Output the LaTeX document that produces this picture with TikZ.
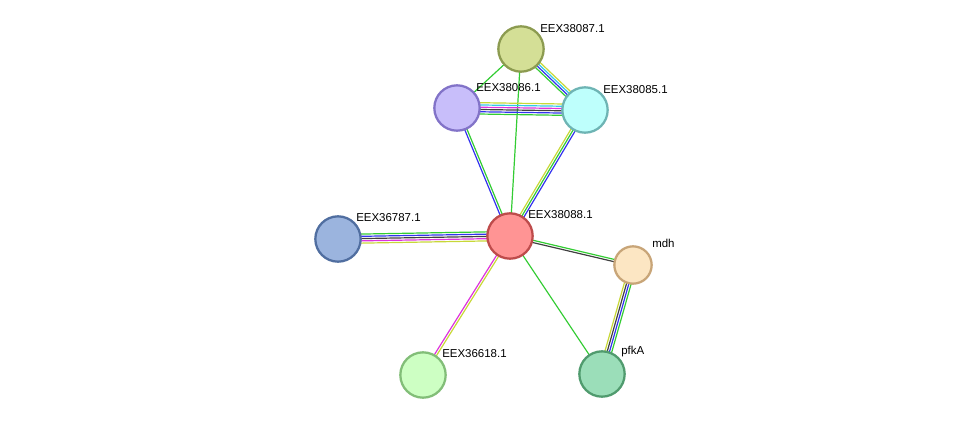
\documentclass[tikz,border=0pt]{standalone}
\usepackage{fontspec}
\setmainfont{Liberation Sans}
\usetikzlibrary{calc,backgrounds}
\definecolor{egreen}{HTML}{33CC33}
\definecolor{eblue}{HTML}{3333EE}
\definecolor{eyel}{HTML}{C8D838}
\definecolor{emag}{HTML}{DD33DD}
\definecolor{eblk}{HTML}{404040}
\definecolor{ecyan}{HTML}{33C8E8}
\newcommand{\myedge}[4]{%
  \foreach \cl [count=\ii] in {#3}{%
    \pgfmathsetmacro{\off}{(\ii-(#4+1)/2)*1.7}
    \draw[draw=\cl,line width=0.9pt] ($(#1)!\off pt!90:(#2)$) -- ($(#2)!\off pt!-90:(#1)$);
  }}
\tikzset{prot/.style={circle,minimum size=34pt,line width=1.7pt,inner sep=0pt},
  lab/.style={font=\fontsize{8.6}{10}\selectfont,anchor=south west,inner sep=0pt}}
\begin{document}
\begin{tikzpicture}[x=0.75pt,y=-0.75pt]
\useasboundingbox (0,0) rectangle (976,421);
\node[prot,draw={rgb,255:red,140;green,155;blue,80},fill={rgb,255:red,212;green,223;blue,150}] (n87) at (521,49) {};
\node[prot,draw={rgb,255:red,130;green,115;blue,200},fill={rgb,255:red,200;green,190;blue,250}] (n86) at (457,108) {};
\node[prot,draw={rgb,255:red,110;green,180;blue,180},fill={rgb,255:red,190;green,255;blue,252}] (n85) at (585,110) {};
\node[prot,draw={rgb,255:red,190;green,75;blue,75},fill={rgb,255:red,255;green,148;blue,148}] (n88) at (510,236) {};
\node[prot,draw={rgb,255:red,80;green,110;blue,160},fill={rgb,255:red,155;green,180;blue,222}] (n67) at (338,239) {};
\node[prot,minimum size=28pt,draw={rgb,255:red,200;green,165;blue,120},fill={rgb,255:red,252;green,230;blue,195}] (mdh) at (633,265) {};
\node[prot,draw={rgb,255:red,130;green,190;blue,120},fill={rgb,255:red,205;green,255;blue,195}] (n18) at (423,375) {};
\node[prot,draw={rgb,255:red,80;green,155;blue,110},fill={rgb,255:red,155;green,222;blue,185}] (pfk) at (602,374) {};
\begin{scope}[on background layer]
\myedge{n88}{n86}{egreen,eblue}{2}
\myedge{n88}{n85}{eblue,egreen,eyel}{3}
\myedge{n88}{n87}{egreen}{1}
\myedge{n86}{n87}{egreen}{1}
\myedge{n87}{n85}{egreen,eblue,ecyan,eyel}{4}
\myedge{n86}{n85}{egreen,eblue,eblk,emag,ecyan,eyel}{6}
\myedge{n67}{n88}{eyel,emag,eblk,eblue,egreen}{5}
\myedge{n88}{mdh}{eblk,egreen}{2}
\myedge{n88}{n18}{emag,eyel}{2}
\myedge{n88}{pfk}{egreen}{1}
\myedge{mdh}{pfk}{eyel,eblk,eblue,egreen}{4}
\end{scope}
\node[lab] (l87) at (540,33) {EEX38087.1};
\node[lab] (l86) at (476,92) {EEX38086.1};
\node[lab] (l85) at (603,94) {EEX38085.1};
\node[lab] (l88) at (528,219) {EEX38088.1};
\node[lab] (l67) at (356,222) {EEX36787.1};
\node[lab] (lmdh) at (652,248) {mdh};
\node[lab] (l18) at (442,358) {EEX36618.1};
\node[lab] (lpfk) at (621,357) {pfkA};
\end{tikzpicture}
\end{document}
